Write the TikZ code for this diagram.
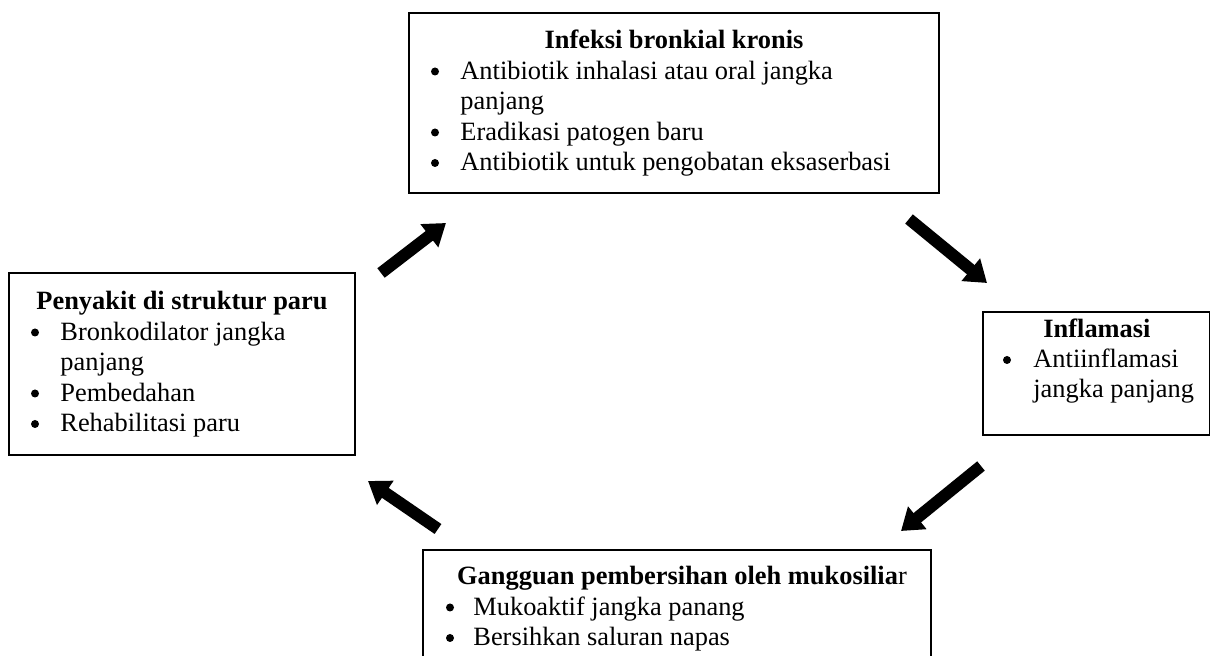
\documentclass[tikz,border=0pt]{standalone}
\usepackage{fontspec}
\setmainfont{Liberation Serif}
\usetikzlibrary{arrows.meta}
\begin{document}
\begin{tikzpicture}[x=0.5pt,y=-0.5pt,
  box/.style={draw=black, line width=0.9pt, anchor=north west, inner sep=0pt, outer sep=0pt},
  txt/.style={inner sep=0pt, anchor=base west, font=\fontsize{13.2}{15}\selectfont},
  ttl/.style={inner sep=0pt, anchor=base, font=\fontsize{13.2}{15}\selectfont\bfseries},
  bul/.style={circle, fill=black, inner sep=0pt, minimum size=4pt},
  bigarrow/.style={line width=6pt, line cap=butt, -{Triangle[length=10.5pt,width=14pt]}}
]
\clip (0,0) rectangle (1211,656);
\fill[white] (0,0) rectangle (1211,656);

% Top box
\node[box, minimum width=265pt, minimum height=90pt] (top) at (409,13) {};
\node[ttl] (topT) at (674,49) {Infeksi bronkial kronis};
\node[bul] (topB1) at (435,71.5) {};
\node[txt] (top1) at (460,79.5) {Antibiotik inhalasi atau oral jangka};
\node[txt] (top2) at (460,110) {panjang};
\node[bul] (topB3) at (435,132.5) {};
\node[txt] (top3) at (460,140.5) {Eradikasi patogen baru};
\node[bul] (topB4) at (435,163) {};
\node[txt] (top4) at (460,171) {Antibiotik untuk pengobatan eksaserbasi};

% Left box
\node[box, minimum width=173pt, minimum height=91pt] (left) at (9,273) {};
\node[ttl] (leftT) at (182,310) {Penyakit di struktur paru};
\node[bul] (leftB1) at (35,332.5) {};
\node[txt] (left1) at (60,340.5) {Bronkodilator jangka};
\node[txt] (left2) at (60,371) {panjang};
\node[bul] (leftB3) at (35,393.5) {};
\node[txt] (left3) at (60,401.5) {Pembedahan};
\node[bul] (leftB4) at (35,424) {};
\node[txt] (left4) at (60,432) {Rehabilitasi paru};

% Right box
\node[box, minimum width=113.25pt, minimum height=61.5pt] (right) at (983,312) {};
\node[ttl] (rightT) at (1097,338) {Inflamasi};
\node[bul] (rightB1) at (1007,360) {};
\node[txt] (right1) at (1033,368) {Antiinflamasi};
\node[txt] (right2) at (1033,398) {jangka panjang};

% Bottom box
\node[box, minimum width=254pt, minimum height=65pt] (bottom) at (423,550) {};
\node[txt, anchor=base] (bottomT) at (682,585) {\textbf{Gangguan pembersihan oleh mukosilia}r};
\node[bul] (bottomB1) at (450,607.5) {};
\node[txt] (bottom1) at (473,615.5) {Mukoaktif jangka panang};
\node[bul] (bottomB2) at (450,638) {};
\node[txt] (bottom2) at (473,646) {Bersihkan saluran napas};

% Arrows
\coordinate (a1s) at (381,273); \coordinate (a1e) at (446,223);
\coordinate (a2s) at (909,219); \coordinate (a2e) at (987,283);
\coordinate (a3s) at (981,466); \coordinate (a3e) at (901,531);
\coordinate (a4s) at (438,529); \coordinate (a4e) at (368,481);
\draw[bigarrow] (a1s) -- (a1e);
\draw[bigarrow] (a2s) -- (a2e);
\draw[bigarrow] (a3s) -- (a3e);
\draw[bigarrow] (a4s) -- (a4e);
\end{tikzpicture}
\end{document}
